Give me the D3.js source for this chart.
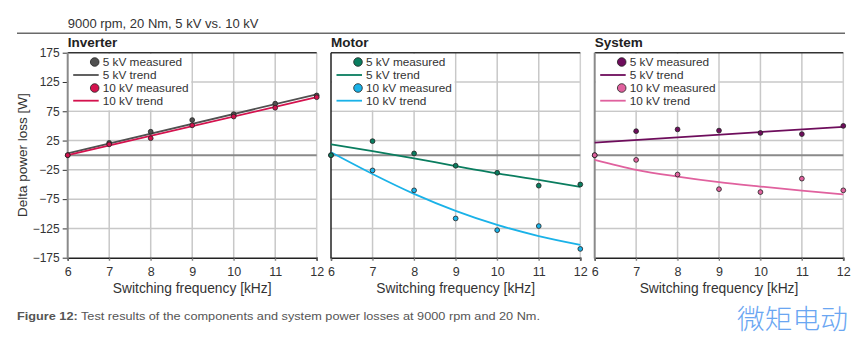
<!DOCTYPE html>
<html><head><meta charset="utf-8">
<script src="https://cdn.jsdelivr.net/npm/d3@7"></script>
<style>
html,body{margin:0;padding:0;background:#fff;}
svg{display:block;font-family:"Liberation Sans",Arial,Helvetica,sans-serif;}
</style></head>
<body><svg id="c" width="857" height="341"></svg>
<script>
// ---- data ----
const freq = [6, 7, 8, 9, 10, 11, 12];
const xTicks = [6, 7, 8, 9, 10, 11, 12];
const yTicks = [175, 125, 75, 25, -25, -75, -125, -175];
const panelNames = ["Inverter", "Motor", "System"];
const legendLabels = ["5 kV measured", "5 kV trend", "10 kV measured", "10 kV trend"];

const inverter5Measured = [0, 21, 40, 60, 70, 88, 102];
const inverter10Measured = [0, 18.5, 29, 51, 66, 81, 99];
const inverter5Trend = [[6, 3], [12, 104]];
const inverter10Trend = [[6, 0], [12, 99]];

const motor5Measured = [0, 24, 3, -18, -30, -52, -50];
const motor10Measured = [0, -26, -60, -108, -128, -121, -160];
const motor5Trend = [18.5, 7, -5.5, -18.5, -31, -42, -54];
const motor10Trend = [5, -32, -66, -95, -119, -138, -153];

const system5Measured = [0, 41, 44, 42, 38, 36, 50];
const system10Measured = [0, -8, -33, -58, -63, -40, -60];
const system5Trend = [[6, 21.5], [12, 48.5]];
const system10Trend = [-8, -25, -36.5, -46, -53.5, -60.5, -67];

const colors = {
  Inverter: ["#505050", "#d4124e"],
  Motor: ["#0a7d5f", "#1ab2e8"],
  System: ["#6e0d5c", "#e0619e"]
};

const toPairs = arr => arr.map((v, i) => [freq[i], v]);
const panels = [
  {name: panelNames[0], m5: inverter5Measured, m10: inverter10Measured, t5: inverter5Trend, t10: inverter10Trend, left: 67.7, right: 316.7, axisColor: "#8a8a8a", axisW: 2},
  {name: panelNames[1], m5: motor5Measured, m10: motor10Measured, t5: toPairs(motor5Trend), t10: toPairs(motor10Trend), left: 331, right: 580.3, axisColor: "#222", axisW: 1.5},
  {name: panelNames[2], m5: system5Measured, m10: system10Measured, t5: system5Trend, t10: toPairs(system10Trend), left: 594.7, right: 843.3, axisColor: "#8a8a8a", axisW: 2}
];

const svg = d3.select("#c");
const plotTop = 52.7, plotBottom = 257.7;
const y = d3.scaleLinear().domain([-175, 175]).range([plotBottom, plotTop]);
const textColor = "#333";

// header
svg.append("text").attr("x", 67.7).attr("y", 28.3).attr("font-size", 13).attr("fill", textColor)
  .text("9000 rpm, 20 Nm, 5 kV vs. 10 kV");
svg.append("line").attr("x1", 17).attr("x2", 845).attr("y1", 33.3).attr("y2", 33.3)
  .attr("stroke", "#6a6a6a").attr("stroke-width", 1.5);

panels.forEach((p, pi) => {
  const x = d3.scaleLinear().domain([6, 12]).range([p.left, p.right]);
  const g = svg.append("g");
  const [c5, c10] = colors[p.name];

  // panel title
  g.append("text").attr("x", p.left).attr("y", 47).attr("font-size", 13.5).attr("font-weight", "bold")
    .attr("fill", "#222").text(p.name);

  // grid
  const gridColor = "#c8c8c8";
  const legendBottom = y(75), legendRight = x(9);
  yTicks.filter(t => t !== 175 && t !== -175).forEach(t => {
    g.append("line").attr("x1", p.left).attr("x2", p.right).attr("y1", y(t)).attr("y2", y(t))
      .attr("stroke", gridColor).attr("stroke-width", 1.5);
  });
  xTicks.filter(t => t !== 6).forEach(t => {
    g.append("line").attr("x1", x(t)).attr("x2", x(t)).attr("y1", plotTop).attr("y2", plotBottom + 3)
      .attr("stroke", t === 12 ? "#d0d0d0" : gridColor).attr("stroke-width", 1.5);
  });
  // legend background
  g.append("rect").attr("x", p.left + 1).attr("y", plotTop + 1)
    .attr("width", legendRight - p.left - 2).attr("height", legendBottom - plotTop - 2).attr("fill", "#fff");

  // zero line
  g.append("line").attr("x1", p.left).attr("x2", p.right).attr("y1", y(0)).attr("y2", y(0))
    .attr("stroke", "#8a8a8a").attr("stroke-width", 2);
  // top border
  g.append("line").attr("x1", p.left).attr("x2", p.right).attr("y1", plotTop).attr("y2", plotTop)
    .attr("stroke", "#333").attr("stroke-width", 1.5);
  // bottom axis
  const xAxis = d3.axisBottom(x).tickValues(xTicks).tickSize(3).tickFormat(d3.format("d"));
  const xa = g.append("g").attr("transform", `translate(0,${plotBottom})`).call(xAxis);
  xa.select(".domain").attr("stroke", "#222").attr("stroke-width", 1.5);
  xa.selectAll(".tick line").attr("stroke", "#777");
  xa.selectAll(".tick text").attr("font-size", 12.5).attr("fill", textColor).attr("dy", "0").attr("y", 18.5)
    .attr("font-family", "Liberation Sans, Arial, sans-serif");

  // left axis
  if (pi === 0) {
    const yAxis = d3.axisLeft(y).tickValues(yTicks).tickSize(5).tickPadding(3)
      .tickFormat(d => d < 0 ? "\u2212" + Math.abs(d) : d);
    const ya = g.append("g").attr("transform", `translate(${p.left},0)`).call(yAxis);
    ya.select(".domain").remove();
    ya.selectAll(".tick line").attr("stroke", "#333").attr("stroke-width", 1);
    ya.selectAll(".tick text").attr("font-size", 12).attr("fill", textColor)
      .attr("font-family", "Liberation Sans, Arial, sans-serif");
  }
  g.append("line").attr("x1", p.left).attr("x2", p.left).attr("y1", plotTop).attr("y2", plotBottom + 0.75)
    .attr("stroke", p.axisColor).attr("stroke-width", p.axisW);

  // x label
  g.append("text").attr("x", (p.left + p.right) / 2).attr("y", 292.5).attr("text-anchor", "middle")
    .attr("font-size", 13.8).attr("fill", textColor).text("Switching frequency [kHz]");

  // trend lines
  const line = d3.line().x(d => x(d[0])).y(d => y(d[1])).curve(d3.curveMonotoneX);
  g.append("path").datum(p.t5).attr("d", line).attr("fill", "none").attr("stroke", c5).attr("stroke-width", 1.8);
  g.append("path").datum(p.t10).attr("d", line).attr("fill", "none").attr("stroke", c10).attr("stroke-width", 1.8);

  // measured points
  const drawPts = (vals, col) => g.append("g").selectAll("circle").data(vals).join("circle")
    .attr("cx", (d, i) => x(freq[i])).attr("cy", d => y(d)).attr("r", 2.4)
    .attr("fill", col).attr("stroke", "#222").attr("stroke-width", 0.8);
  if (p.name === "Motor") { drawPts(p.m10, c10); drawPts(p.m5, c5); }
  else { drawPts(p.m5, c5); drawPts(p.m10, c10); }

  // legend
  const rows = [62, 75, 88, 100.7];
  const lg = g.append("g");
  legendLabels.forEach((lab, i) => {
    const col = i < 2 ? c5 : c10;
    if (i % 2 === 0) {
      lg.append("circle").attr("cx", p.left + 27).attr("cy", rows[i]).attr("r", 4.3)
        .attr("fill", col).attr("stroke", "#222").attr("stroke-width", 0.8);
    } else {
      lg.append("line").attr("x1", p.left + 5.5).attr("x2", p.left + 31).attr("y1", rows[i]).attr("y2", rows[i])
        .attr("stroke", col).attr("stroke-width", 1.8);
    }
    lg.append("text").attr("x", p.left + 35).attr("y", rows[i] + 4).attr("font-size", 11.8)
      .attr("fill", textColor).text(lab);
  });
});

// y axis title
svg.append("text").attr("transform", `translate(27,${y(0)}) rotate(-90)`).attr("text-anchor", "middle")
  .attr("font-size", 13.5).attr("fill", textColor).text("Delta power loss [W]");

// caption
const cap = svg.append("text").attr("x", 17).attr("y", 320).attr("font-size", 11.5).attr("fill", "#555")
  .attr("textLength", 523).attr("lengthAdjust", "spacingAndGlyphs");
cap.append("tspan").attr("font-weight", "bold").text("Figure 12:");
cap.append("tspan").text(" Test results of the components and system power losses at 9000 rpm and 20 Nm.");

// watermark
svg.append("text").attr("x", 737).attr("y", 329).attr("font-size", 27.5)
  .attr("font-family", "Noto Sans CJK SC, sans-serif").attr("font-weight", 300)
  .attr("fill", "#6aa6f2").attr("textLength", 111).attr("lengthAdjust", "spacingAndGlyphs").text("微矩电动");
</script></body></html>
